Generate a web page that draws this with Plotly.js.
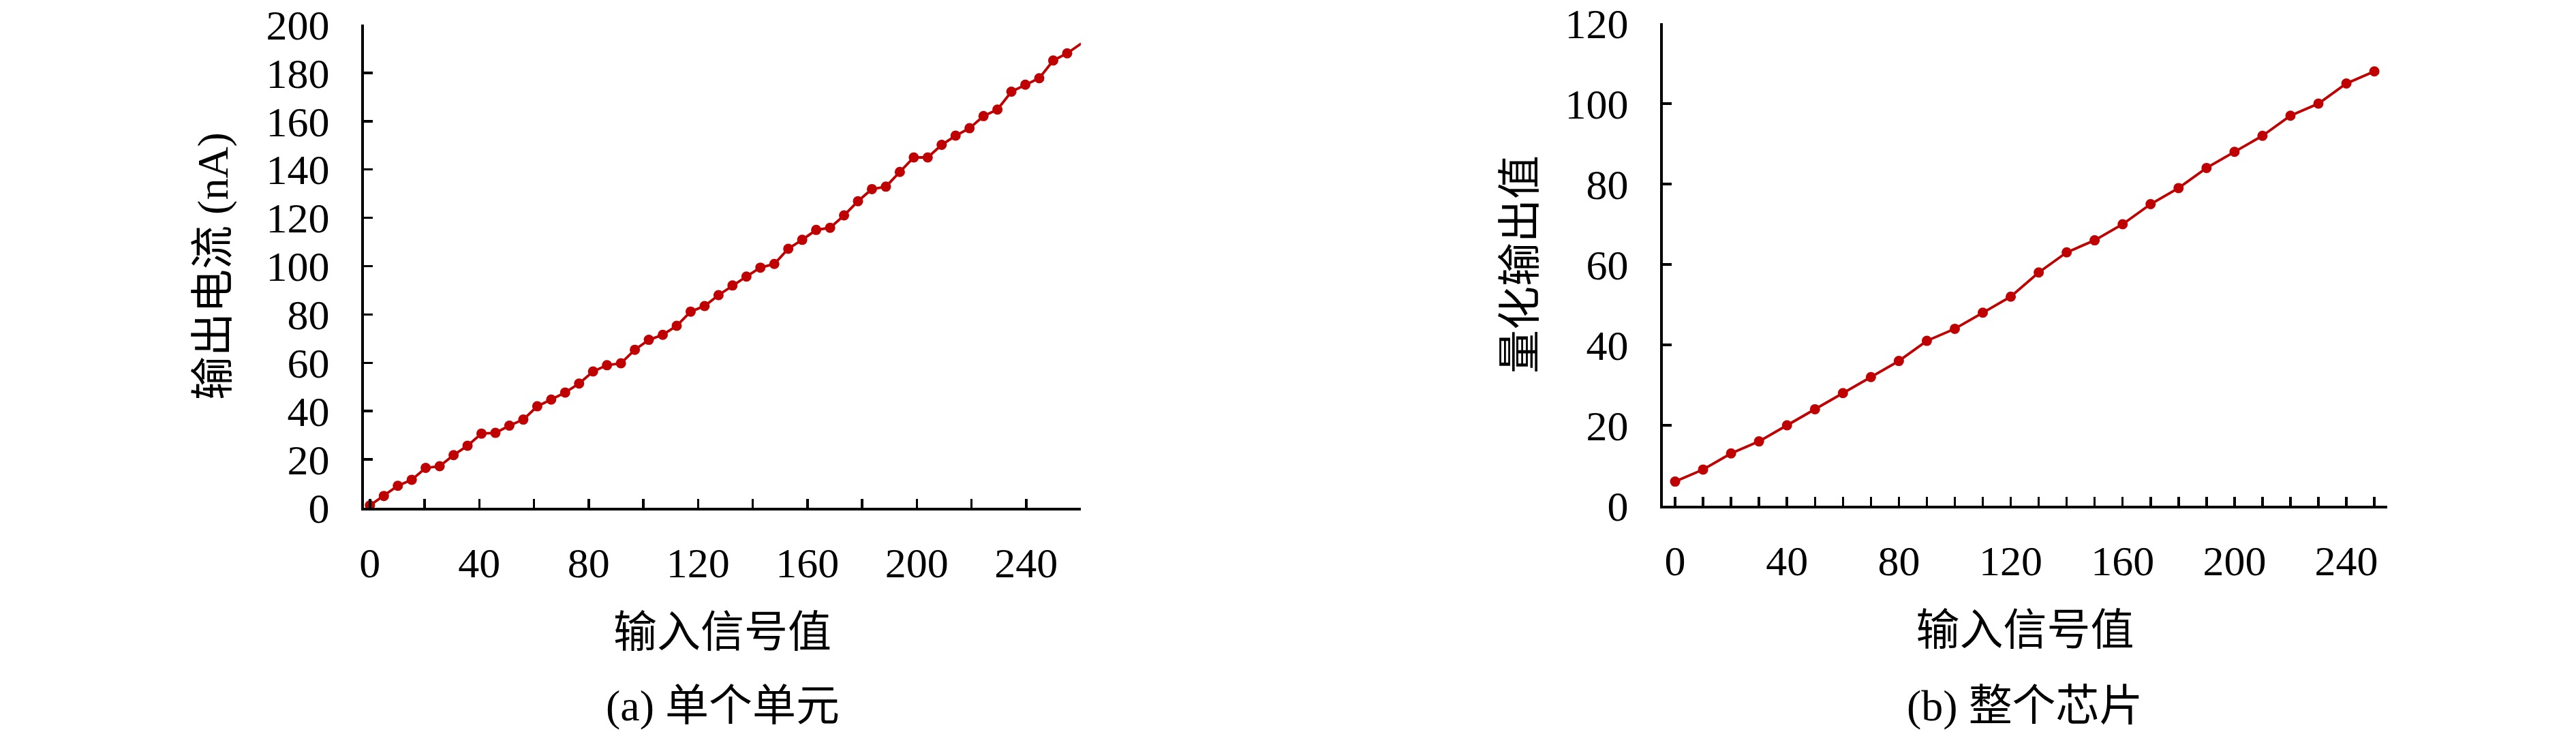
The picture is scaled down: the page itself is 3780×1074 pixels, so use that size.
<!DOCTYPE html>
<html>
<head>
<meta charset="utf-8">
<script src="https://cdn.plot.ly/plotly-3.0.1.min.js"></script>
<style>
html, body { margin: 0; padding: 0; background: #ffffff; }
#chart { width: 3780px; height: 1074px; }
</style>
</head>
<body>
<div id="chart"></div>
<script>
// ---- Panel (a): 单个单元 ----
const inputA = [0, 5.1, 10.2, 15.3, 20.4, 25.5, 30.6, 35.7, 40.8, 45.9, 51, 56.1, 61.2, 66.3, 71.4, 76.5, 81.6, 86.7, 91.8, 96.9, 102, 107.1, 112.2, 117.3, 122.4, 127.5, 132.6, 137.7, 142.8, 147.9, 153, 158.1, 163.2, 168.3, 173.4, 178.5, 183.6, 188.7, 193.8, 198.9, 204, 209.1, 214.2, 219.3, 224.4, 229.5, 234.6, 239.7, 244.8, 249.9, 255, 260.1];
const currentA = [1, 4.9, 9.1, 11.6, 16.5, 17.2, 21.8, 25.7, 30.7, 31.0, 34.0, 36.5, 42.0, 44.8, 47.7, 51.4, 56.4, 59.0, 59.8, 65.4, 69.5, 71.6, 75.3, 81.2, 83.5, 88.0, 92.0, 95.7, 99.4, 100.9, 107.2, 110.9, 115.0, 115.9, 121.0, 126.9, 131.9, 132.9, 139.0, 145.0, 145.0, 150.2, 154.0, 157.1, 162.1, 164.8, 172.2, 175.1, 177.8, 185.1, 188.1, 192.1];
const xTicksA = [0, 20, 40, 60, 80, 100, 120, 140, 160, 180, 200, 220, 240, 260];
const xTickTextA = ["0", "", "40", "", "80", "", "120", "", "160", "", "200", "", "240", ""];
const yTicksA = [0, 20, 40, 60, 80, 100, 120, 140, 160, 180, 200];

// ---- Panel (b): 整个芯片 ----
const inputB = [0, 10, 20, 30, 40, 50, 60, 70, 80, 90, 100, 110, 120, 130, 140, 150, 160, 170, 180, 190, 200, 210, 220, 230, 240, 250];
const outputB = [6, 9, 13, 16, 20, 24, 28, 32, 36, 41, 44, 48, 52, 58, 63, 66, 70, 75, 79, 84, 88, 92, 97, 100, 105, 108];
const xTicksB = [0, 10, 20, 30, 40, 50, 60, 70, 80, 90, 100, 110, 120, 130, 140, 150, 160, 170, 180, 190, 200, 210, 220, 230, 240, 250];
const xTickTextB = ["0", "", "", "", "40", "", "", "", "80", "", "", "", "120", "", "", "", "160", "", "", "", "200", "", "", "", "240", ""];
const yTicksB = [0, 20, 40, 60, 80, 100, 120];

const xTitle = "输入信号值";
const yTitleA = "输出电流 (nA)";
const yTitleB = "量化输出值";
const captionA = "(a) 单个单元";
const captionB = "(b) 整个芯片";

const RED = "#C00000";
const FONT = "'Liberation Serif', 'Noto Sans CJK SC', serif";

const traceStyle = {
  type: "scatter",
  mode: "lines+markers",
  line: { color: RED, width: 3.8 },
  marker: { color: RED, size: 15, symbol: "circle" },
  cliponaxis: false,
  showlegend: false,
  hoverinfo: "x+y"
};

const data = [
  Object.assign({}, traceStyle, { x: inputA, y: currentA, xaxis: "x", yaxis: "y" }),
  Object.assign({}, traceStyle, { x: inputB, y: outputB, xaxis: "x2", yaxis: "y2" })
];

function axisBase() {
  return {
    showgrid: false,
    zeroline: false,
    showline: true,
    linecolor: "#000000",
    linewidth: 4,
    ticks: "inside",
    ticklen: 13,
    tickwidth: 3.5,
    tickcolor: "#000000",
    tickfont: { family: FONT, size: 62, color: "#000000" },
    tickmode: "array",
    automargin: false,
    fixedrange: true
  };
}

const layout = {
  width: 3780,
  height: 1074,
  margin: { l: 0, r: 0, t: 0, b: 0, pad: 0 },
  paper_bgcolor: "#ffffff",
  plot_bgcolor: "#ffffff",
  font: { family: FONT, color: "#000000" },
  showlegend: false,
  xaxis: Object.assign(axisBase(), {
    domain: [534 / 3780, 1586 / 3780],
    range: [-2.2, 260],
    tickvals: xTicksA,
    ticktext: xTickTextA,
    anchor: "y",
    ticklabelstandoff: 24,
    title: { text: xTitle, font: { family: FONT, size: 64 }, standoff: 46 }
  }),
  yaxis: Object.assign(axisBase(), {
    domain: [(1074 - 745) / 1074, (1074 - 36) / 1074],
    range: [0, 200],
    tickvals: yTicksA,
    ticktext: yTicksA.map(String),
    anchor: "x",
    ticklabelstandoff: 34,
    title: { text: yTitleA, font: { family: FONT, size: 64 }, standoff: 36 }
  }),
  xaxis2: Object.assign(axisBase(), {
    domain: [2440 / 3780, 3503 / 3780],
    range: [-4.4, 254.6],
    tickvals: xTicksB,
    ticktext: xTickTextB,
    anchor: "y2",
    ticklabelstandoff: 24,
    title: { text: xTitle, font: { family: FONT, size: 64 }, standoff: 46 }
  }),
  yaxis2: Object.assign(axisBase(), {
    domain: [(1074 - 742) / 1074, (1074 - 34) / 1074],
    range: [0, 120],
    tickvals: yTicksB,
    ticktext: yTicksB.map(String),
    anchor: "x2",
    ticklabelstandoff: 34,
    title: { text: yTitleB, font: { family: FONT, size: 64 }, standoff: 24 }
  }),
  annotations: [
    { text: captionA, xref: "paper", yref: "paper", x: 1060 / 3780, y: (1074 - 1035) / 1074,
      xanchor: "center", yanchor: "middle", showarrow: false, font: { family: FONT, size: 64, color: "#000000" } },
    { text: captionB, xref: "paper", yref: "paper", x: 2971 / 3780, y: (1074 - 1035) / 1074,
      xanchor: "center", yanchor: "middle", showarrow: false, font: { family: FONT, size: 64, color: "#000000" } }
  ]
};

Plotly.newPlot("chart", data, layout, { staticPlot: true, displayModeBar: false });
</script>
</body>
</html>
